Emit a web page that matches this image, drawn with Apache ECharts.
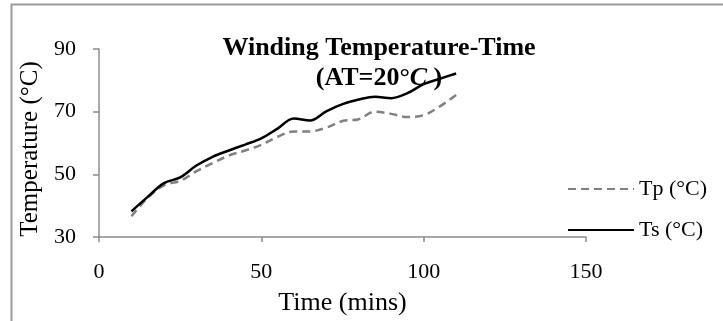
<!DOCTYPE html>
<html>
<head>
<meta charset="utf-8">
<script src="https://cdn.jsdelivr.net/npm/echarts@6/dist/echarts.min.js"></script>
<style>
  html, body { margin: 0; padding: 0; background: #fff; }
  #chart { width: 723px; height: 321px; }
</style>
</head>
<body>
<div id="chart"></div>
<script>
const times = [10, 15, 20, 25, 30, 35, 40, 45, 50, 55, 60, 65, 70, 75, 80, 85, 90, 95, 100, 105, 110]
const tp = [36.6, 42.5, 46.5, 47.9, 51.0, 53.6, 56.0, 57.6, 59.4, 62.0, 63.7, 63.7, 64.9, 67.0, 67.6, 70.0, 69.3, 68.3, 68.9, 71.7, 75.3]
const ts = [38.2, 42.8, 47.2, 49.0, 52.8, 55.6, 57.6, 59.5, 61.5, 64.6, 67.8, 67.2, 70.1, 72.4, 73.9, 74.8, 74.3, 75.9, 78.8, 80.5, 82.2]
const xTicks = [0, 50, 100, 150]
const yTicks = [30, 50, 70, 90]

const font = 'Liberation Serif'
const axisGray = '#8c8c8c'

const myChart = echarts.init(document.getElementById('chart'))
myChart.setOption({
    animation: false,
    textStyle: {fontFamily: font},
    title: {
        text: '{b|Winding Temperature-Time}\n{b|(AT=20°}{i|C}{b| )}',
        left: 374,
        top: 28,
        textAlign: 'center',
        textStyle: {
            rich: {
                b: {fontFamily: font, fontWeight: 'bold', fontSize: 26, color: '#000', lineHeight: 30},
                i: {fontFamily: font, fontWeight: 'bold', fontStyle: 'italic', fontSize: 26, color: '#000', lineHeight: 30}
            }
        }
    },
    graphic: [{
        type: 'rect',
        shape: {x: 11.5, y: 4.5, width: 800, height: 400},
        style: {fill: 'none', stroke: '#9a9a9a', lineWidth: 2}
    }],
    grid: {left: 99, right: 137, top: 49, bottom: 78},
    legend: {
        orient: 'vertical',
        left: 567,
        top: 178,
        padding: 0,
        itemWidth: 66,
        itemHeight: 20,
        itemGap: 19,
        itemStyle: {opacity: 0},
        textStyle: {fontFamily: font, fontSize: 22, color: '#000'},
        data: ['Tp (°C)', 'Ts (°C)']
    },
    xAxis: {
        type: 'value',
        min: xTicks[0],
        max: xTicks[xTicks.length - 1],
        interval: 50,
        name: 'Time (mins)',
        nameLocation: 'middle',
        nameGap: 53,
        nameTextStyle: {fontFamily: font, fontSize: 26, color: '#000'},
        axisLine: {show: true, lineStyle: {color: axisGray, width: 1.5}},
        axisTick: {show: true, length: 5, lineStyle: {color: axisGray, width: 1.5}},
        axisLabel: {fontFamily: font, fontSize: 22, color: '#000', margin: 24},
        splitLine: {show: false}
    },
    yAxis: {
        type: 'value',
        min: yTicks[0],
        max: yTicks[yTicks.length - 1],
        interval: 20,
        name: 'Temperature (°C)',
        nameLocation: 'middle',
        nameGap: 52,
        nameTextStyle: {fontFamily: font, fontSize: 25, color: '#000', padding: [0, 12, 0, 0]},
        axisLine: {show: true, lineStyle: {color: axisGray, width: 1.5}},
        axisTick: {show: true, length: 6, lineStyle: {color: axisGray, width: 1.5}},
        axisLabel: {fontFamily: font, fontSize: 22, color: '#000', margin: 23},
        splitLine: {show: false}
    },
    series: [
        {
            name: 'Tp (°C)',
            type: 'line',
            data: times.map((t, i) => [t, tp[i]]),
            smooth: 0.35,
            symbol: 'none',
            lineStyle: {color: '#808080', width: 2.5, type: [8, 5]},
            itemStyle: {color: '#808080'}
        },
        {
            name: 'Ts (°C)',
            type: 'line',
            data: times.map((t, i) => [t, ts[i]]),
            smooth: 0.35,
            symbol: 'none',
            lineStyle: {color: '#000', width: 2.5},
            itemStyle: {color: '#000'}
        }
    ]
})
</script>
</body>
</html>
